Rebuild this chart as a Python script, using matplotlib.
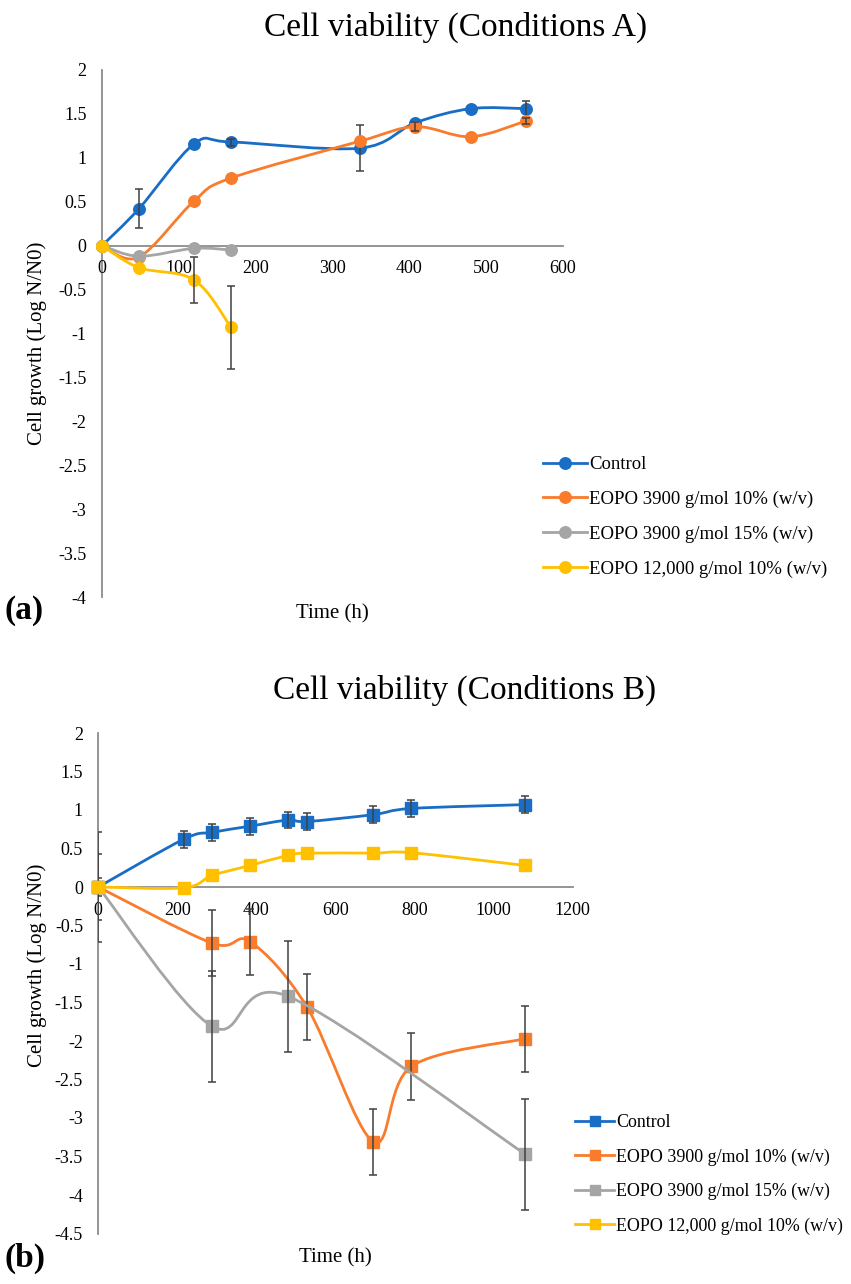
import matplotlib
matplotlib.use("Agg")
import matplotlib.pyplot as plt
import numpy as np
from matplotlib.path import Path
from matplotlib.patches import PathPatch
from matplotlib.lines import Line2D

plt.rcParams['font.family'] = ['Liberation Serif', 'DejaVu Serif']

# ---------------- data: Conditions A ----------------
series_names = ["Control", "EOPO 3900 g/mol 10% (w/v)",
                "EOPO 3900 g/mol 15% (w/v)", "EOPO 12,000 g/mol 10% (w/v)"]
colors = ["#1A6DC4", "#F97B2C", "#A5A5A5", "#FFC000"]

A_t_ctrl = [0, 48, 120, 168, 336, 408, 480, 552]
A_ctrl = [0, 0.42, 1.16, 1.18, 1.11, 1.40, 1.56, 1.56]
A_ctrl_err = [0, 0.22, 0, 0.04, 0.26, 0, 0, 0.09]

A_t_or = [0, 48, 120, 168, 336, 408, 480, 552]
A_or = [0, -0.13, 0.51, 0.77, 1.19, 1.355, 1.24, 1.42]
A_or_err = [0, 0, 0, 0, 0, 0.05, 0, 0.03]

A_t_gr = [0, 48, 120, 168]
A_gr = [0, -0.12, -0.03, -0.05]
A_gr_err = [0, 0, 0, 0]

A_t_ye = [0, 48, 120, 168]
A_ye = [0, -0.25, -0.39, -0.93]
A_ye_err = [0, 0, 0.26, 0.47]

A_xticks = [0, 100, 200, 300, 400, 500, 600]
A_yticks = [2, 1.5, 1, 0.5, 0, -0.5, -1, -1.5, -2, -2.5, -3, -3.5, -4]

# ---------------- data: Conditions B ----------------
B_t_ctrl = [0, 216, 288, 384, 480, 528, 696, 792, 1080]
B_ctrl = [0, 0.62, 0.71, 0.79, 0.87, 0.85, 0.94, 1.02, 1.07]
B_ctrl_err = [0.12, 0.11, 0.11, 0.11, 0.11, 0.11, 0.11, 0.11, 0.11]

B_t_or = [0, 288, 384, 528, 696, 792, 1080]
B_or = [0, -0.73, -0.71, -1.56, -3.31, -2.33, -1.97]
B_or_err = [0.43, 0.43, 0.43, 0.43, 0.43, 0.43, 0.43]

B_t_gr = [0, 288, 480, 1080]
B_gr = [0, -1.81, -1.42, -3.47]
B_gr_err = [0.71, 0.72, 0.72, 0.72]

B_t_ye = [0, 216, 288, 384, 480, 528, 696, 792, 1080]
B_ye = [0, -0.01, 0.15, 0.28, 0.41, 0.44, 0.44, 0.445, 0.28]
B_ye_err = [0, 0, 0, 0, 0, 0, 0, 0, 0]

B_xticks = [0, 200, 400, 600, 800, 1000, 1200]
B_yticks = [2, 1.5, 1, 0.5, 0, -0.5, -1, -1.5, -2, -2.5, -3, -3.5, -4, -4.5]


def smooth_path(x, y):
    P = np.column_stack([x, y]).astype(float)
    n = len(P)
    verts = [tuple(P[0])]
    codes = [Path.MOVETO]
    for i in range(n - 1):
        p0 = P[max(i - 1, 0)]
        p1 = P[i]
        p2 = P[i + 1]
        p3 = P[min(i + 2, n - 1)]
        c1 = p1 + (p2 - p0) / 6.0
        c2 = p2 - (p3 - p1) / 6.0
        verts += [tuple(c1), tuple(c2), tuple(p2)]
        codes += [Path.CURVE4] * 3
    return Path(verts, codes)


def fmt(v):
    return "%g" % v


def draw_panel(ax, data, marker, ms, xlim, ylim, xticks, yticks):
    for k, (t, v, e) in enumerate(data):
        c = colors[k]
        z = 2 + k
        patch = PathPatch(smooth_path(t, v), fill=False, edgecolor=c,
                          lw=2.0, zorder=z, capstyle='round', joinstyle='round')
        ax.add_patch(patch)
        ax.plot(t, v, linestyle='none', marker=marker, ms=ms, color=c,
                mec=c, zorder=z + 0.1, clip_on=False)
        idx = [i for i, ei in enumerate(e) if ei > 0]
        if idx:
            eb = ax.errorbar([t[i] for i in idx], [v[i] for i in idx],
                             yerr=[e[i] for i in idx], fmt='none',
                             ecolor='#404040', elinewidth=1.1, capsize=2.8,
                             capthick=1.1, zorder=z + 0.2)
            for art in eb.lines[1] + eb.lines[2]:
                art.set_clip_on(True)
    ax.set_xlim(*xlim)
    ax.set_ylim(*ylim)
    ax.set_xticks(xticks)
    ax.set_xticklabels([fmt(x) for x in xticks])
    ax.set_yticks(yticks)
    ax.set_yticklabels([fmt(y) for y in yticks])
    for s in ['top', 'right']:
        ax.spines[s].set_visible(False)
    ax.spines['bottom'].set_position(('data', 0))
    for s in ['left', 'bottom']:
        ax.spines[s].set_color('#8C8C8C')
        ax.spines[s].set_linewidth(1.3)
        ax.spines[s].set_zorder(1)
    ax.tick_params(axis='x', length=0, pad=10.5, labelsize=13)
    ax.tick_params(axis='y', length=0, pad=11, labelsize=13)
    ax.patch.set_visible(False)


fig = plt.figure(figsize=(8.51, 12.84), dpi=100)

axA = fig.add_axes([102 / 851, 1 - 597 / 1284, 461 / 851, 527 / 1284])
draw_panel(axA,
           [(A_t_ctrl, A_ctrl, A_ctrl_err), (A_t_or, A_or, A_or_err),
            (A_t_gr, A_gr, A_gr_err), (A_t_ye, A_ye, A_ye_err)],
           'o', 8.3, (0, 600), (-4, 2), A_xticks, A_yticks)

axB = fig.add_axes([98.3 / 851, 1 - 1233.5 / 1284, 474.4 / 851, 500.5 / 1284])
draw_panel(axB,
           [(B_t_ctrl, B_ctrl, B_ctrl_err), (B_t_or, B_or, B_or_err),
            (B_t_gr, B_gr, B_gr_err), (B_t_ye, B_ye, B_ye_err)],
           's', 8.0, (0, 1200), (-4.5, 2), B_xticks, B_yticks)

# titles and labels
fig.text(456 / 851, 1 - 27 / 1284, "Cell viability (Conditions A)",
         ha='center', va='center', fontsize=24)
fig.text(465 / 851, 1 - 690 / 1284, "Cell viability (Conditions B)",
         ha='center', va='center', fontsize=24)
fig.text(37 / 851, 1 - 343 / 1284, "Cell growth (Log N/N0)", rotation=90,
         ha='center', va='center', fontsize=15)
fig.text(37 / 851, 1 - 965 / 1284, "Cell growth (Log N/N0)", rotation=90,
         ha='center', va='center', fontsize=15)
fig.text(332 / 851, 1 - 614 / 1284, "Time (h)", ha='center', va='center',
         fontsize=15)
fig.text(335 / 851, 1 - 1258 / 1284, "Time (h)", ha='center', va='center',
         fontsize=15)
fig.text(5 / 851, 1 - 610 / 1284, "(a)", ha='left', va='center',
         fontsize=24, fontweight='bold')
fig.text(5 / 851, 1 - 1258 / 1284, "(b)", ha='left', va='center',
         fontsize=24, fontweight='bold')

# legends
hA = [Line2D([], [], color=c, marker='o', ms=8.3, lw=2.0) for c in colors]
fig.legend(hA, series_names, loc='upper left',
           bbox_to_anchor=(543 / 851, 1 - 456 / 1284), frameon=False,
           fontsize=13.5, handlelength=2.35, handletextpad=0.1,
           labelspacing=0.94, borderpad=0, borderaxespad=0)
hB = [Line2D([], [], color=c, marker='s', ms=7.6, lw=2.0) for c in colors]
fig.legend(hB, series_names, loc='upper left',
           bbox_to_anchor=(575 / 851, 1 - 1114 / 1284), frameon=False,
           fontsize=12.9, handlelength=2.2, handletextpad=0.1,
           labelspacing=0.96, borderpad=0, borderaxespad=0)

fig.savefig("out.png", dpi=100)
